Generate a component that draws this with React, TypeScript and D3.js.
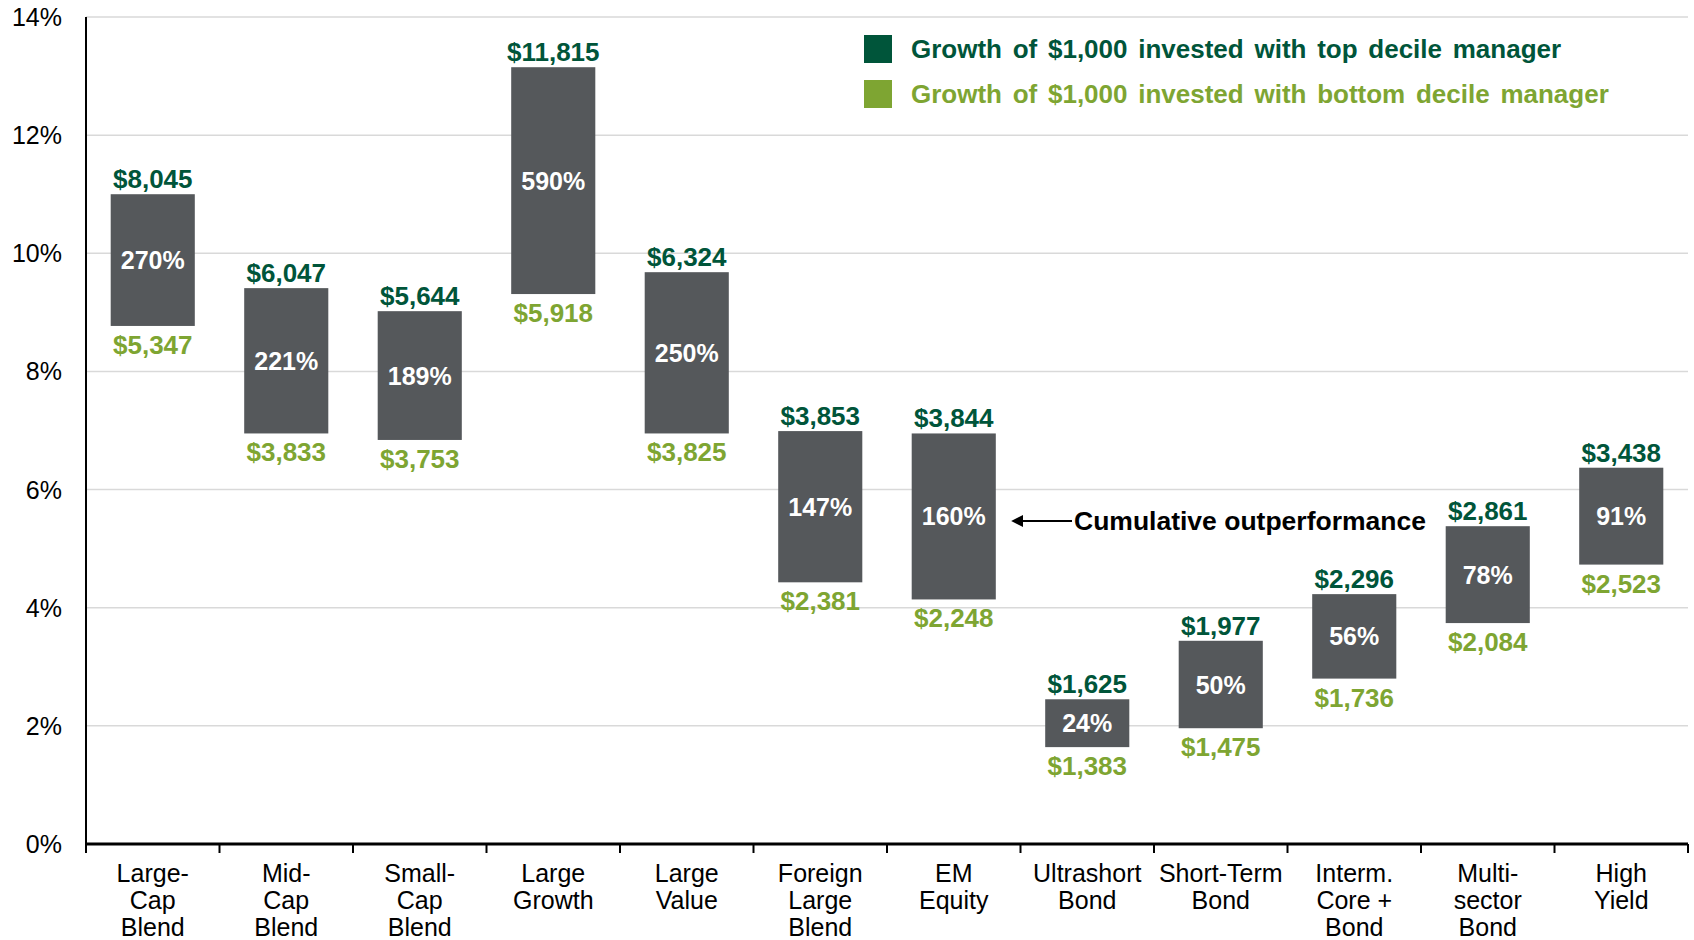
import * as d3 from "d3";

const categories = [
  ["Large-", "Cap", "Blend"],
  ["Mid-", "Cap", "Blend"],
  ["Small-", "Cap", "Blend"],
  ["Large", "Growth"],
  ["Large", "Value"],
  ["Foreign", "Large", "Blend"],
  ["EM", "Equity"],
  ["Ultrashort", "Bond"],
  ["Short-Term", "Bond"],
  ["Interm.", "Core +", "Bond"],
  ["Multi-", "sector", "Bond"],
  ["High", "Yield"],
];
// annualized return (%) of top / bottom decile manager
const topReturn = [11.0, 9.41, 9.02, 13.15, 9.68, 6.99, 6.95, 2.45, 3.44, 4.23, 5.38, 6.37];
const bottomReturn = [8.77, 6.95, 6.84, 9.31, 6.95, 4.43, 4.14, 1.64, 1.96, 2.80, 3.74, 4.73];
const topGrowth = ["$8,045", "$6,047", "$5,644", "$11,815", "$6,324", "$3,853", "$3,844", "$1,625", "$1,977", "$2,296", "$2,861", "$3,438"];
const bottomGrowth = ["$5,347", "$3,833", "$3,753", "$5,918", "$3,825", "$2,381", "$2,248", "$1,383", "$1,475", "$1,736", "$2,084", "$2,523"];
const outperformance = ["270%", "221%", "189%", "590%", "250%", "147%", "160%", "24%", "50%", "56%", "78%", "91%"];
const yTicks = [0, 2, 4, 6, 8, 10, 12, 14];
const legendLabels = [
  "Growth of $1,000 invested with top decile manager",
  "Growth of $1,000 invested with bottom decile manager",
];

const W = 1694;
const H = 940;
const margin = { top: 17, right: 6, bottom: 96, left: 86 };
const darkGreen = "#00553a";
const lightGreen = "#7ea532";
const barGray = "#55585b";
const font = "'Liberation Sans', Arial, sans-serif";

export default function App() {
  const x = d3
    .scaleBand<number>()
    .domain(d3.range(categories.length))
    .range([margin.left, W - margin.right])
    .paddingInner(0.37)
    .paddingOuter(0.185);
  const y = d3
    .scaleLinear()
    .domain([0, 14])
    .range([H - margin.bottom, margin.top]);
  const step = x.step();
  const bounds = d3.range(categories.length + 1).map((i) => margin.left + i * step);

  return (
    <svg
      width={W}
      height={H}
      style={{ position: "absolute", left: 0, top: 0, fontFamily: font }}
    >
      <rect width={W} height={H} fill="white" />
      {/* gridlines */}
      <g>
        {yTicks.map((t) => (
          <line
            key={t}
            x1={margin.left}
            x2={W - margin.right}
            y1={y(t)}
            y2={y(t)}
            stroke="#d9d9d9"
            strokeWidth={1.5}
          />
        ))}
      </g>
      {/* y tick labels */}
      <g>
        {yTicks.map((t) => (
          <text
            key={t}
            x={62}
            y={y(t)}
            textAnchor="end"
            dominantBaseline="central"
            fontSize={25}
            fill="#000"
          >
            {t}%
          </text>
        ))}
      </g>
      {/* bars */}
      <g>
        {categories.map((c, i) => {
          const x0 = x(i)!;
          const cx = x0 + x.bandwidth() / 2;
          const yTop = y(topReturn[i]);
          const yBot = y(bottomReturn[i]);
          return (
            <g key={i}>
              <rect x={x0} y={yTop} width={x.bandwidth()} height={yBot - yTop} fill={barGray} />
              <text
                x={cx}
                y={yTop - 6}
                textAnchor="middle"
                fontSize={26}
                fontWeight="bold"
                fill={darkGreen}
              >
                {topGrowth[i]}
              </text>
              <text
                x={cx}
                y={yBot + 28}
                textAnchor="middle"
                fontSize={26}
                fontWeight="bold"
                fill={lightGreen}
              >
                {bottomGrowth[i]}
              </text>
              <text
                x={cx}
                y={(yTop + yBot) / 2}
                textAnchor="middle"
                dominantBaseline="central"
                fontSize={25}
                fontWeight="bold"
                fill="white"
              >
                {outperformance[i]}
              </text>
            </g>
          );
        })}
      </g>
      {/* axes */}
      <line x1={margin.left} x2={margin.left} y1={margin.top} y2={y(0)} stroke="#000" strokeWidth={2} />
      <line x1={margin.left} x2={W - margin.right} y1={y(0)} y2={y(0)} stroke="#000" strokeWidth={3} />
      <g>
        {bounds.map((bx, i) => (
          <line key={i} x1={bx} x2={bx} y1={y(0)} y2={y(0) + 9} stroke="#000" strokeWidth={2} />
        ))}
      </g>
      <g>
        {categories.map((lines, i) => (
          <text
            key={i}
            x={x(i)! + x.bandwidth() / 2}
            y={882}
            textAnchor="middle"
            fontSize={25}
            fill="#000"
          >
            {lines.map((l, j) => (
              <tspan key={j} x={x(i)! + x.bandwidth() / 2} dy={j === 0 ? 0 : 27}>
                {l}
              </tspan>
            ))}
          </text>
        ))}
      </g>
      {/* legend */}
      <g>
        {legendLabels.map((l, i) => (
          <g key={i} transform={`translate(864,${35 + i * 45})`}>
            <rect width={28} height={28} fill={i === 0 ? darkGreen : lightGreen} />
            <text
              x={47}
              y={14}
              dominantBaseline="central"
              fontSize={26}
              fontWeight="bold"
              wordSpacing={3.5}
              fill={i === 0 ? darkGreen : lightGreen}
            >
              {l}
            </text>
          </g>
        ))}
      </g>
      {/* annotation */}
      <g>
        <defs>
          <marker id="arrow" viewBox="0 0 10 10" refX={1} refY={5} markerWidth={6} markerHeight={6} orient="auto-start-reverse">
            <path d="M0,0 L10,5 L0,10 z" fill="#000" />
          </marker>
        </defs>
        <line
          x1={1072}
          x2={1022}
          y1={521}
          y2={521}
          stroke="#000"
          strokeWidth={2}
          markerEnd="url(#arrow)"
        />
        <text x={1074} y={521} dominantBaseline="central" fontSize={26.5} fontWeight="bold" fill="#000">
          Cumulative outperformance
        </text>
      </g>
    </svg>
  );
}
